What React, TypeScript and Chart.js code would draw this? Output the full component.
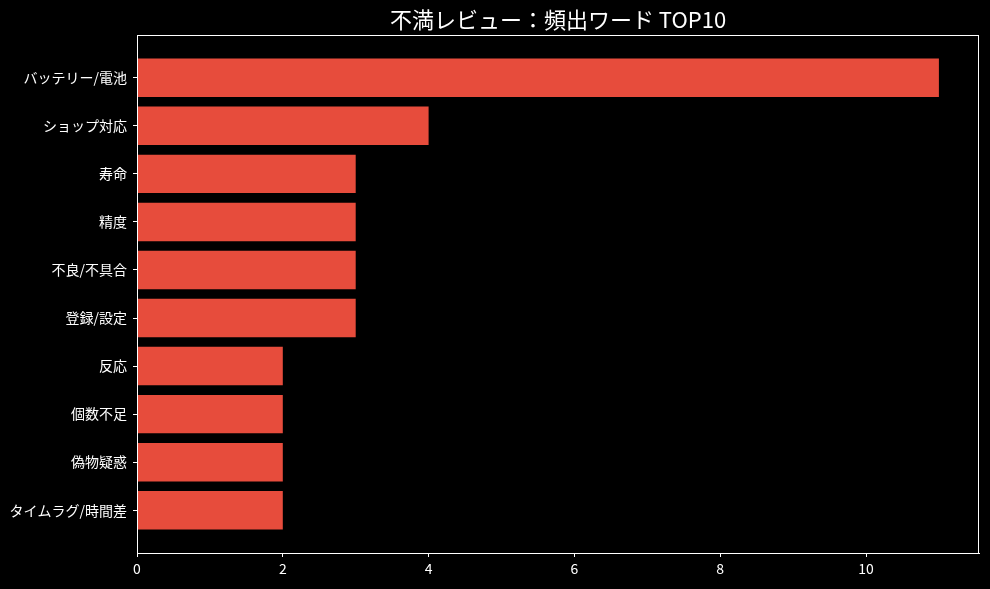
import React, { useEffect, useRef } from "react";
import { Chart, registerables } from "chart.js";

Chart.register(...registerables);

const TITLE = "不満レビュー：頻出ワード TOP10";
const categories = [
  "バッテリー/電池",
  "ショップ対応",
  "寿命",
  "精度",
  "不良/不具合",
  "登録/設定",
  "反応",
  "個数不足",
  "偽物疑惑",
  "タイムラグ/時間差",
];
const counts = [11, 4, 3, 3, 3, 3, 2, 2, 2, 2];
const xTicks = [0, 2, 4, 6, 8, 10];

const FONT = "'Noto Sans CJK JP', 'DejaVu Sans', sans-serif";
const TEXT = "#ffffff";

export default function App() {
  const ref = useRef<HTMLCanvasElement | null>(null);

  useEffect(() => {
    document.body.style.margin = "0";
    document.body.style.background = "#000";
    const canvas = ref.current;
    if (!canvas) return;

    const xMax = Math.max(...counts) * 1.05;
    const n = categories.length;
    const yPad = (n - 1 + 0.8) * 0.05;

    const framePlugin = {
      id: "frame",
      afterDraw(chart: any) {
        const { ctx, chartArea } = chart;
        ctx.save();
        ctx.strokeStyle = "#ffffff";
        ctx.lineWidth = 1;
        ctx.strokeRect(
          Math.round(chartArea.left) + 0.5,
          Math.round(chartArea.top) + 0.5,
          Math.round(chartArea.right - chartArea.left) - 1,
          Math.round(chartArea.bottom - chartArea.top)
        );
        ctx.fillStyle = TEXT;
        ctx.font = `22px ${FONT}`;
        ctx.textAlign = "center";
        ctx.textBaseline = "middle";
        ctx.fillText(TITLE, (chartArea.left + chartArea.right) / 2, 20);
        ctx.restore();
      },
    };

    const chart = new Chart(canvas, {
      type: "bar",
      data: {
        datasets: [
          {
            data: counts.map((v, i) => ({ x: v, y: i })),
            backgroundColor: "#e74c3c",
            borderWidth: 0,
            barPercentage: 0.8,
            categoryPercentage: 1,
          },
        ],
      },
      options: {
        indexAxis: "y",
        animation: false,
        responsive: false,
        maintainAspectRatio: false,
        layout: { padding: { top: 35, right: 11, left: 0, bottom: 0 } },
        plugins: {
          legend: { display: false },
          title: { display: false },
          tooltip: { enabled: false },
        },
        scales: {
          x: {
            type: "linear",
            min: 0,
            max: xMax,
            offset: false,
            afterBuildTicks: (scale: any) => {
              scale.ticks = xTicks.map((v) => ({ value: v }));
            },
            afterFit: (scale: any) => {
              scale.height = 36;
            },
            grid: {
              display: true,
              offset: false,
              drawOnChartArea: false,
              drawTicks: true,
              tickLength: 4,
              color: "#ffffff",
            },
            border: { display: true, color: "#ffffff" },
            ticks: {
              color: TEXT,
              font: { family: FONT, size: 14 },
              padding: 3,
              maxRotation: 0,
            },
          },
          y: {
            type: "linear",
            reverse: true,
            offset: false,
            min: -0.4 - yPad,
            max: n - 1 + 0.4 + yPad,
            afterBuildTicks: (scale: any) => {
              scale.ticks = categories.map((_, i) => ({ value: i }));
            },
            afterFit: (scale: any) => {
              scale.width = 137;
            },
            grid: {
              display: true,
              offset: false,
              drawOnChartArea: false,
              drawTicks: true,
              tickLength: 4,
              color: "#ffffff",
            },
            border: { display: true, color: "#ffffff" },
            ticks: {
              color: TEXT,
              font: { family: FONT, size: 14 },
              padding: 6,
              callback: (v: any) => categories[Math.round(Number(v))] ?? "",
            },
          },
        },
      } as any,
      plugins: [framePlugin],
    });

    return () => chart.destroy();
  }, []);

  return (
    <div style={{ width: 990, height: 589, background: "#000" }}>
      <canvas ref={ref} width={990} height={589} style={{ display: "block" }} />
    </div>
  );
}
